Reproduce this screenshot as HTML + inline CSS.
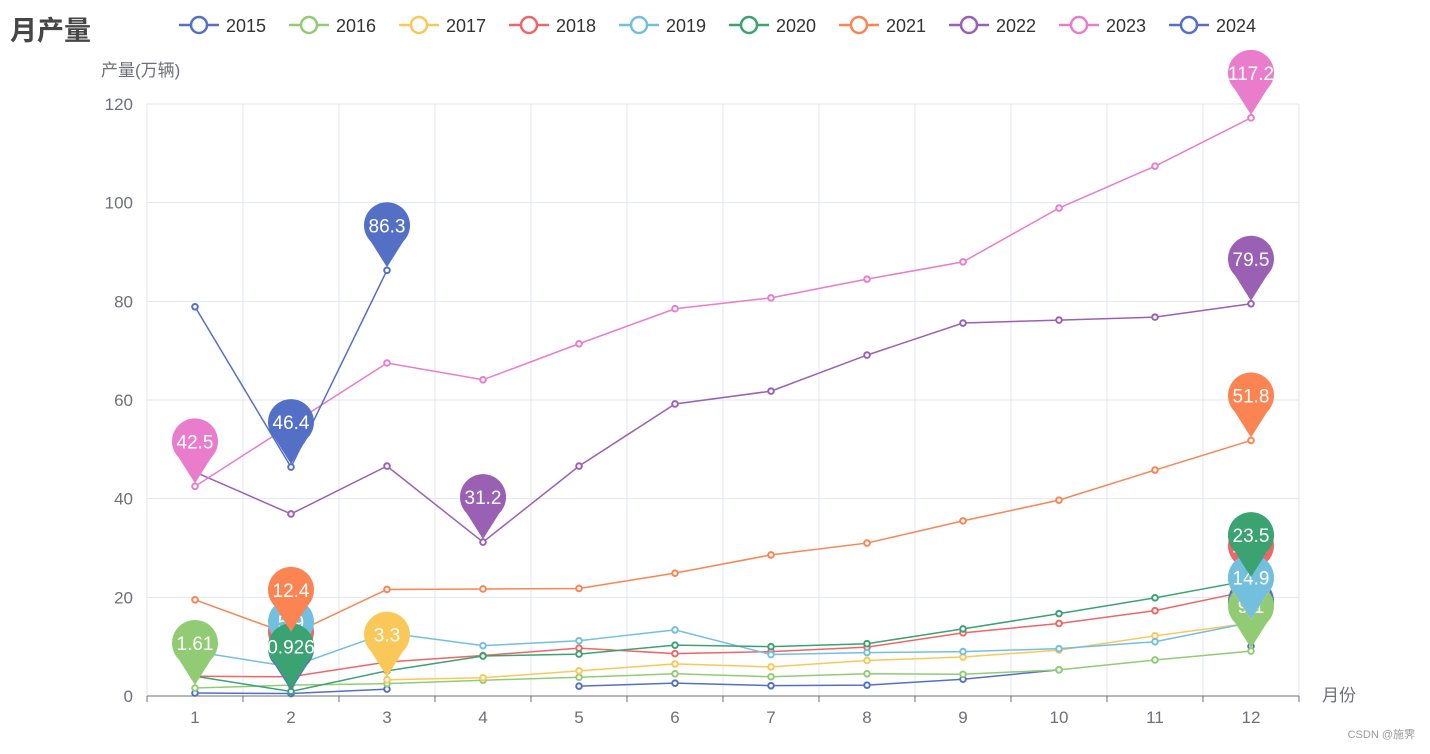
<!DOCTYPE html>
<html><head><meta charset="utf-8"><style>
body{margin:0;background:#fff;width:1430px;height:749px;overflow:hidden;font-family:"Liberation Sans","Noto Sans CJK SC",sans-serif}
</style></head><body>
<svg id="chart" width="1430" height="749" xmlns="http://www.w3.org/2000/svg" font-family="Liberation Sans, Noto Sans CJK SC, sans-serif"></svg>
<script>
const categories=['1','2','3','4','5','6','7','8','9','10','11','12'];
const seriesNames=['2015','2016','2017','2018','2019','2020','2021','2022','2023','2024'];
const colors=['#5470c6','#91cc75','#fac858','#ee6666','#73c0de','#3ba272','#fc8452','#9a60b4','#ea7ccc','#5470c6'];
const s2015=[0.6,0.5,1.4,null,2.0,2.6,2.1,2.2,3.4,5.3,null,10.1];
const s2016=[1.61,2.2,2.5,3.2,3.8,4.5,3.9,4.5,4.4,5.3,7.3,9.1];
const s2017=[null,null,3.3,3.7,5.1,6.5,5.9,7.2,7.9,9.3,12.2,14.8];
const s2018=[4.0,3.9,6.9,8.2,9.7,8.6,9.0,9.9,12.8,14.7,17.3,21.4];
const s2019=[9.0,5.9,12.8,10.2,11.2,13.4,8.4,8.8,9.0,9.6,11.0,14.9];
const s2020=[4.0,0.926,5.1,8.1,8.5,10.3,10.0,10.6,13.6,16.7,19.9,23.5];
const s2021=[19.5,12.4,21.6,21.7,21.8,24.9,28.6,31.0,35.5,39.7,45.8,51.8];
const s2022=[45.4,36.9,46.6,31.2,46.6,59.2,61.8,69.1,75.6,76.2,76.8,79.5];
const s2023=[42.5,55.0,67.5,64.1,71.4,78.5,80.7,84.5,88.0,98.9,107.4,117.2];
const s2024=[78.9,46.4,86.3,null,null,null,null,null,null,null,null,null];
const yTicks=[0,20,40,60,80,100,120];
const allSeries=[s2015,s2016,s2017,s2018,s2019,s2020,s2021,s2022,s2023,s2024];

const svg=document.getElementById('chart');
const NS='http://www.w3.org/2000/svg';
const L=147,R=1299,T=104,B=696,yMax=120;
const band=(R-L)/categories.length;
const xPos=i=>L+band*(i+0.5);
const yPos=v=>B-(v/yMax)*(B-T);
function mk(tag,attrs,parent){const e=document.createElementNS(NS,tag);for(const k in attrs)e.setAttribute(k,attrs[k]);(parent||svg).appendChild(e);return e;}

let t=mk('text',{x:10,y:40,'font-size':27,'font-weight':'bold',fill:'#464646'});t.textContent='月产量';


t=mk('text',{x:101,y:76,'font-size':17,fill:'#6e7079'});t.textContent='产量(万辆)';


t=mk('text',{x:1322,y:701,'font-size':17,fill:'#6e7079'});t.textContent='月份';



const grid=mk('g',{});


yTicks.forEach(v=>{
  if(v>0)mk('line',{x1:L,x2:R,y1:yPos(v),y2:yPos(v),stroke:'#e0e6f1','stroke-width':1},grid);
  const lb=mk('text',{x:133,y:yPos(v)+6,'text-anchor':'end','font-size':17,fill:'#6e7079'},grid);lb.textContent=v;
  
  
});
for(let i=0;i<=categories.length;i++){
  const x=L+band*i;
  mk('line',{x1:x,x2:x,y1:T,y2:B,stroke:'#e0e6f1','stroke-width':1},grid);
  mk('line',{x1:x,x2:x,y1:B,y2:B+6,stroke:'#6e7079','stroke-width':1},grid);
}
mk('line',{x1:L,x2:R,y1:B,y2:B,stroke:'#6e7079','stroke-width':1},grid);
categories.forEach((c,i)=>{const lb=mk('text',{x:xPos(i),y:B+27,'text-anchor':'middle','font-size':17,fill:'#6e7079'},grid);lb.textContent=c;
  
  });

allSeries.forEach((s,k)=>{
  const g=mk('g',{});
  
  
  let d='',pen=false;
  s.forEach((v,i)=>{if(v==null){pen=false;return;}d+=(pen?'L':'M')+xPos(i)+','+yPos(v)+' ';pen=true;});
  mk('path',{d:d,fill:'none',stroke:colors[k],'stroke-width':1.5},g);
  s.forEach((v,i)=>{if(v==null)return;const c=mk('circle',{cx:xPos(i),cy:yPos(v),r:2.8,fill:'#fff',stroke:colors[k],'stroke-width':2},g);
    
    });
});
function pin(x,y,col,label){
  const g=mk('g',{});
  
  
  const cy=y-45,r=23;
  mk('path',{d:`M${x-17},${cy+15} L${x},${y-3} L${x+17},${cy+15} Z`,fill:col},g);
  mk('circle',{cx:x,cy:cy,r:r,fill:col},g);
  const tx=mk('text',{x:x,y:cy+7,'text-anchor':'middle','font-size':19,fill:'#fff'},g);tx.textContent=label;
}
allSeries.forEach((s,k)=>{
  let mx=-1,mn=-1;
  s.forEach((v,i)=>{if(v==null)return;if(mx<0||v>s[mx])mx=i;if(mn<0||v<s[mn])mn=i;});
  pin(xPos(mx),yPos(s[mx]),colors[k],s[mx]);
  pin(xPos(mn),yPos(s[mn]),colors[k],s[mn]);
});
seriesNames.forEach((n,k)=>{
  const x=179+110*k,y=25;
  const g=mk('g',{});
  
  
  mk('line',{x1:x,x2:x+40,y1:y,y2:y,stroke:colors[k],'stroke-width':2.5},g);
  mk('circle',{cx:x+20,cy:y,r:8,fill:'#fff',stroke:colors[k],'stroke-width':2.5},g);
  const tx=mk('text',{x:x+47,y:y+7,'font-size':18,fill:'#333'},g);tx.textContent=n;
});
t=mk('text',{x:1415,y:738,'text-anchor':'end','font-size':11,fill:'#999'});t.textContent='CSDN @施霁';


</script>
</body></html>
